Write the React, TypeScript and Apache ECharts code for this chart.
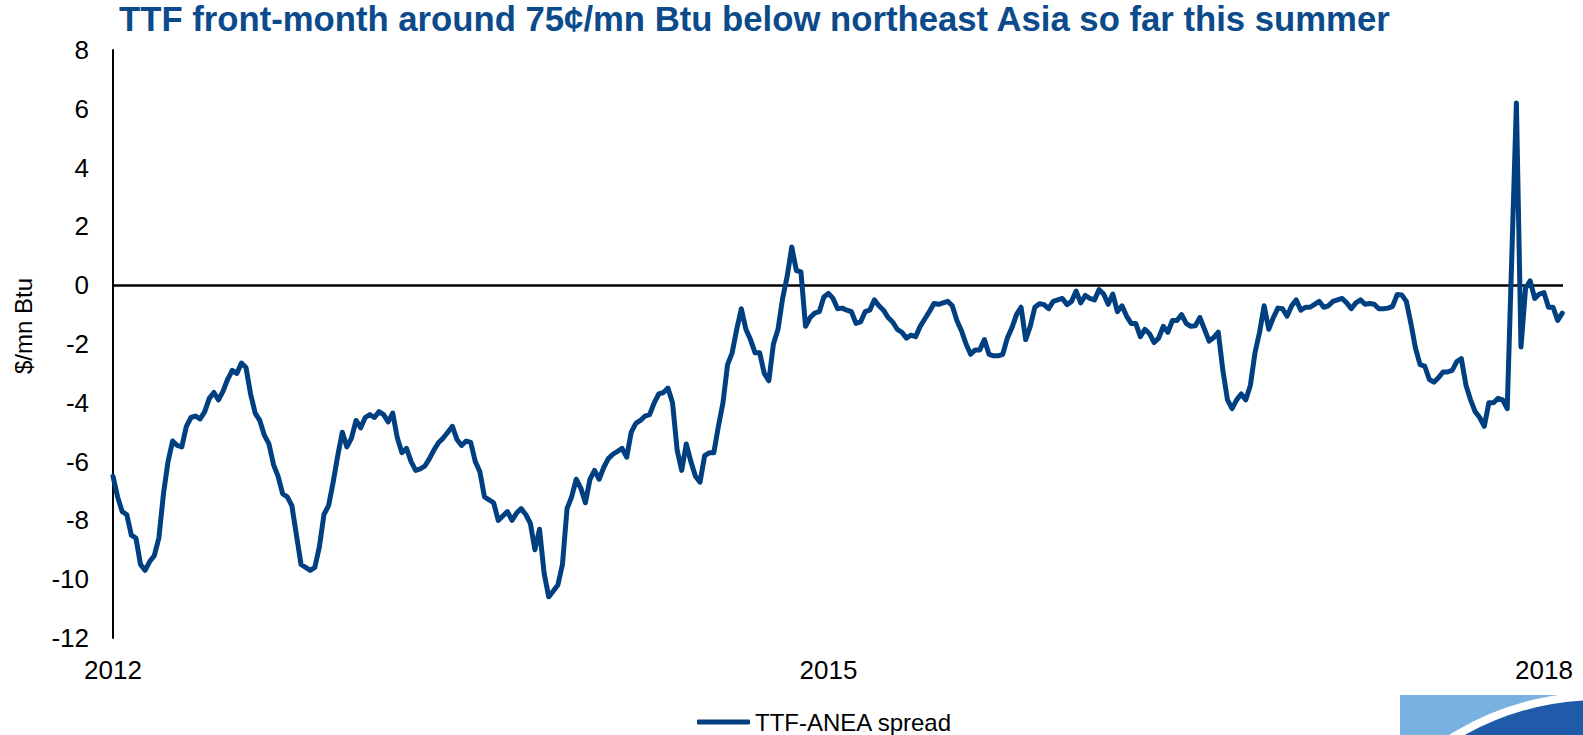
import React, { useEffect, useRef } from "react";
import * as echarts from "echarts";

const titleText = "TTF front-month around 75¢/mn Btu below northeast Asia so far this summer";
const seriesName = "TTF-ANEA spread";
const yAxisTitle = "$/mn Btu";
const startYear = 2012;
const yearTickStep = 3;
const pointsPerYear = 52; // weekly observations
const xMaxYears = 6.08;

// TTF-ANEA spread, $/mn Btu, weekly
const spread: number[] = [
  -6.5, -7.2, -7.7, -7.8, -8.5, -8.6, -9.5, -9.7, -9.4, -9.2,
  -8.6, -7.1, -6.0, -5.3, -5.45, -5.5, -4.8, -4.5, -4.45, -4.55,
  -4.3, -3.85, -3.65, -3.9, -3.6, -3.2, -2.9, -3.0, -2.65, -2.8,
  -3.7, -4.35, -4.6, -5.1, -5.4, -6.1, -6.5, -7.1, -7.2, -7.5,
  -8.5, -9.5, -9.6, -9.7, -9.6, -8.9, -7.8, -7.5, -6.7, -5.8,
  -5.0, -5.5, -5.2, -4.6, -4.85, -4.5, -4.4, -4.5, -4.3, -4.4,
  -4.65, -4.35, -5.2, -5.7, -5.55, -6.0, -6.3, -6.25, -6.15, -5.9,
  -5.6, -5.35, -5.2, -5.0, -4.8, -5.25, -5.45, -5.3, -5.35, -6.0,
  -6.35, -7.2, -7.3, -7.4, -8.0, -7.85, -7.7, -8.0, -7.75, -7.6,
  -7.8, -8.1, -9.0, -8.3, -9.8, -10.6, -10.4, -10.2, -9.5, -7.6,
  -7.2, -6.6, -6.9, -7.4, -6.6, -6.3, -6.6, -6.2, -5.9, -5.75,
  -5.65, -5.55, -5.85, -5.0, -4.7, -4.6, -4.45, -4.4, -4.0, -3.7,
  -3.65, -3.5, -4.0, -5.6, -6.3, -5.4, -6.0, -6.5, -6.7, -5.8,
  -5.7, -5.7, -4.8, -4.0, -2.7, -2.3, -1.5, -0.8, -1.5, -1.85,
  -2.3, -2.3, -3.0, -3.25, -2.0, -1.5, -0.45, 0.3, 1.3, 0.5,
  0.45, -1.4, -1.1, -0.95, -0.9, -0.4, -0.28, -0.45, -0.8, -0.78,
  -0.85, -0.9, -1.3, -1.25, -0.9, -0.85, -0.5, -0.7, -0.85, -1.1,
  -1.25, -1.5, -1.6, -1.8, -1.7, -1.75, -1.4, -1.15, -0.9, -0.62,
  -0.65, -0.6, -0.55, -0.7, -1.2, -1.55, -2.0, -2.35, -2.2, -2.2,
  -1.85, -2.35, -2.4, -2.4, -2.35, -1.8, -1.45, -1.0, -0.75, -1.85,
  -1.4, -0.75, -0.63, -0.66, -0.8, -0.55, -0.5, -0.45, -0.66, -0.55,
  -0.2, -0.6, -0.35, -0.45, -0.5, -0.15, -0.3, -0.65, -0.3, -0.9,
  -0.7, -1.05, -1.3, -1.3, -1.75, -1.5, -1.65, -1.95, -1.8, -1.4,
  -1.6, -1.2, -1.2, -1.0, -1.3, -1.4, -1.38, -1.1, -1.5, -1.9,
  -1.78, -1.6, -2.9, -3.9, -4.2, -3.9, -3.7, -3.9, -3.4, -2.3,
  -1.6, -0.7, -1.5, -1.1, -0.78, -0.8, -1.05, -0.7, -0.5, -0.85,
  -0.75, -0.75, -0.65, -0.55, -0.75, -0.7, -0.55, -0.5, -0.45, -0.6,
  -0.8, -0.6, -0.5, -0.65, -0.62, -0.65, -0.8, -0.8, -0.78, -0.72,
  -0.32, -0.33, -0.55, -1.3, -2.15, -2.7, -2.75, -3.2, -3.3, -3.15,
  -2.95, -2.95, -2.9, -2.6, -2.5, -3.4, -3.9, -4.3, -4.5, -4.8,
  -4.0, -4.0, -3.85, -3.9, -4.2, 1.0, 6.2, -2.1, -0.1, 0.15,
  -0.45, -0.3, -0.25, -0.75, -0.75, -1.2, -0.95,
];

const yMin = -12;
const yMax = 8;
const yStep = 2;

const FONT = '"Liberation Sans", Arial, Helvetica, sans-serif';
const LINE_COLOR = "#003F80";
const TITLE_COLOR = "#0B4A8B";

export default function App() {
  const ref = useRef<HTMLDivElement>(null);

  useEffect(() => {
    if (!ref.current) return;
    const chart = echarts.init(ref.current, null, { renderer: "svg" });
    const data = spread.map((v, i) => [i / pointsPerYear, v]);

    chart.setOption({
      animation: false,
      backgroundColor: "#ffffff",
      textStyle: { fontFamily: FONT },
      title: {
        text: titleText,
        left: 119,
        top: 1,
        padding: 0,
        textStyle: {
          fontFamily: FONT,
          fontSize: 34.7,
          fontWeight: "bold",
          color: TITLE_COLOR,
        },
      },
      legend: {
        left: 697,
        top: 710,
        itemWidth: 53,
        itemHeight: 5,
        padding: 0,
        data: [{ name: seriesName, icon: "roundRect" }],
        itemStyle: { color: LINE_COLOR },
        textStyle: { fontFamily: FONT, fontSize: 24, color: "#000" },
      },
      grid: {
        left: 113,
        right: 20,
        top: 50,
        bottom: 97,
        containLabel: false,
      },
      xAxis: {
        type: "value",
        min: 0,
        max: xMaxYears,
        interval: yearTickStep,
        axisLine: { show: false },
        axisTick: { show: false },
        splitLine: { show: false },
        axisLabel: {
          show: true,
          fontFamily: FONT,
          fontSize: 26,
          color: "#000",
          margin: 19,
          showMaxLabel: false,
          formatter: (v: number) =>
            Math.abs(v % yearTickStep) < 1e-6 ? String(startYear + Math.round(v)) : "",
        },
      },
      yAxis: {
        type: "value",
        min: yMin,
        max: yMax,
        interval: yStep,
        axisLine: { show: true, onZero: false, lineStyle: { color: "#000", width: 2 } },
        axisTick: { show: false },
        splitLine: { show: false },
        axisLabel: {
          fontFamily: FONT,
          fontSize: 26,
          color: "#000",
          margin: 24,
        },
      },
      graphic: [
        {
          type: "text",
          x: 23,
          y: 326,
          rotation: Math.PI / 2,
          style: {
            text: yAxisTitle,
            font: `24px ${FONT}`,
            fill: "#000",
            align: "center",
            verticalAlign: "middle",
          },
        },
        {
          type: "rect",
          shape: { x: 1400, y: 695, width: 183, height: 40 },
          style: { fill: "#79B1E1" },
        },
        {
          type: "circle",
          shape: { cx: 1600, cy: 979, r: 283 },
          style: { fill: "#1F5BA8", stroke: "#ffffff", lineWidth: 8 },
        },
      ],
      series: [
        {
          name: seriesName,
          type: "line",
          data,
          showSymbol: false,
          symbol: "none",
          z: 3,
          lineStyle: { color: LINE_COLOR, width: 5, join: "round", cap: "round" },
          itemStyle: { color: LINE_COLOR },
          markLine: {
            silent: true,
            z: 1,
            symbol: ["none", "none"],
            label: { show: false },
            lineStyle: { color: "#000", width: 2.5, type: "solid" },
            data: [{ yAxis: 0 }],
          },
        },
      ],
    });

    return () => chart.dispose();
  }, []);

  return (
    <div
      ref={ref}
      style={{ position: "fixed", left: 0, top: 0, width: 1583, height: 735, background: "#fff" }}
    />
  );
}
